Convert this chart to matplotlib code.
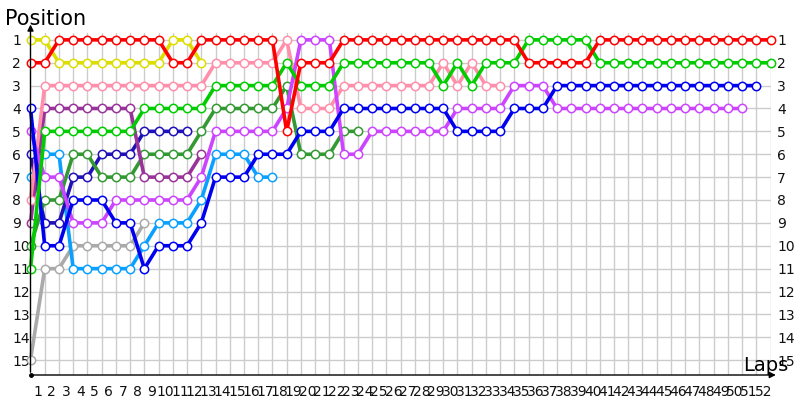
import numpy as np
import matplotlib.pyplot as plt

laps = np.arange(0, 53)
positions = np.arange(1, 16)

# position of each driver at the end of every lap (lap 0 = grid)
red = [2, 2, 1, 1, 1, 1, 1, 1, 1, 1,
       2, 2, 1, 1, 1, 1, 1, 1, 5, 2,
       2, 2, 1, 1, 1, 1, 1, 1, 1, 1,
       1, 1, 1, 1, 1, 2, 2, 2, 2, 2,
       1, 1, 1, 1, 1, 1, 1, 1, 1, 1, 1, 1, 1]
green = [11, 5, 5, 5, 5, 5, 5, 5, 4, 4,
         4, 4, 4, 3, 3, 3, 3, 3, 2, 3,
         3, 3, 2, 2, 2, 2, 2, 2, 2, 3,
         2, 3, 2, 2, 2, 1, 1, 1, 1, 1,
         2, 2, 2, 2, 2, 2, 2, 2, 2, 2, 2, 2, 2]
blue = [4, 10, 10, 8, 8, 8, 9, 9, 11, 10,
        10, 10, 9, 7, 7, 7, 6, 6, 6, 5,
        5, 5, 4, 4, 4, 4, 4, 4, 4, 4,
        5, 5, 5, 5, 4, 4, 4, 3, 3, 3,
        3, 3, 3, 3, 3, 3, 3, 3, 3, 3, 3, 3]
violet = [5, 7, 7, 9, 9, 9, 8, 8, 8, 8,
          8, 8, 7, 5, 5, 5, 5, 5, 4, 1,
          1, 1, 6, 6, 5, 5, 5, 5, 5, 5,
          4, 4, 4, 4, 3, 3, 3, 4, 4, 4,
          4, 4, 4, 4, 4, 4, 4, 4, 4, 4, 4]
pink = [8, 3, 3, 3, 3, 3, 3, 3, 3, 3,
        3, 3, 3, 2, 2, 2, 2, 2, 1, 4,
        4, 4, 3, 3, 3, 3, 3, 3, 3, 2,
        3, 2, 3, 3]
yellow = [1, 1, 2, 2, 2, 2, 2, 2, 2, 2, 1, 1, 2]
purple = [9, 4, 4, 4, 4, 4, 4, 4, 7, 7, 7, 7, 6]
dkgreen = [10, 8, 8, 6, 6, 7, 7, 7, 6, 6,
           6, 6, 5, 4, 4, 4, 4, 4, 3, 6,
           6, 6, 5, 5]
navy = [6, 9, 9, 7, 7, 6, 6, 6, 5, 5, 5, 5]
ltblue = [7, 6, 6, 11, 11, 11, 11, 11, 10, 9, 9, 9, 8, 6, 6, 6, 7, 7]
gray = [15, 11, 11, 10, 10, 10, 10, 10, 9]

series = [
    (gray, '#aaaaaa'),
    (ltblue, '#0aa0ff'),
    (navy, '#2010b8'),
    (dkgreen, '#339933'),
    (purple, '#993399'),
    (yellow, '#dddd00'),
    (pink, '#ff8fab'),
    (violet, '#cc44ff'),
    (blue, '#0000f0'),
    (green, '#00cc00'),
    (red, '#ff0000'),
]

fig = plt.figure(figsize=(8, 4), dpi=100)
ax = fig.add_axes([30.5 / 800, 25 / 400, 740 / 800, 342 / 400])
ax.set_xlim(0, 52)
ax.set_ylim(15.65, 0.7)

# grid on every lap / position
ax.set_xticks(laps[1:])
ax.set_xticklabels([])
ax.set_xticks(laps[1:] - 0.5, [str(l) for l in laps[1:]], minor=True)
ax.set_yticks(positions)
ax.grid(True, which='major', color='#cccccc', lw=1)
ax.set_axisbelow(True)
ax.tick_params(which='both', length=0)
ax.tick_params(axis='x', which='minor', labelsize=10, pad=7, labelcolor='#111111')
ax.tick_params(axis='y', labelsize=10, pad=13.3, labelcolor='#111111')
for t in ax.get_yticklabels():
    t.set_horizontalalignment('left')
for s in ax.spines.values():
    s.set_visible(False)

ax2 = ax.twinx()
ax2.set_ylim(ax.get_ylim())
ax2.set_yticks(positions)
ax2.tick_params(length=0, labelsize=10, pad=4.7, labelcolor='#111111')
for s in ax2.spines.values():
    s.set_visible(False)

for vals, color in series:
    ax.plot(laps[:len(vals)], vals, color=color, lw=2.6, marker='o', ms=6,
            mfc='white', mec=color, mew=1.1, clip_on=False, zorder=3)

# axes with arrow heads
ax.annotate('', xy=(0, 1.033), xytext=(0, 0), xycoords='axes fraction',
            arrowprops=dict(arrowstyle='-|>', color='black', lw=1, mutation_scale=9))
ax.annotate('', xy=(1.011, 0), xytext=(0, 0), xycoords='axes fraction',
            arrowprops=dict(arrowstyle='-|>', color='black', lw=1, mutation_scale=9))
ax.plot([0], [15.65], 'o', color='black', ms=2.5, clip_on=False, zorder=4)

fig.text(5 / 800, 1 - 25 / 400, 'Position', fontsize=15, va='baseline', ha='left')
fig.text(743 / 800, 1 - 371 / 400, 'Laps', fontsize=14, va='baseline', ha='left')

fig.savefig('out.png', dpi=100)
